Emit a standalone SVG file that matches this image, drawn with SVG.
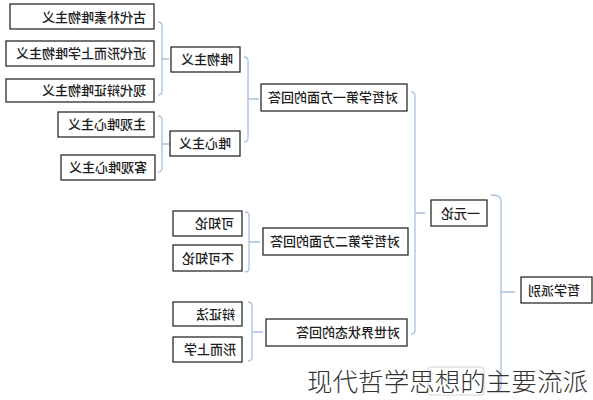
<svg xmlns="http://www.w3.org/2000/svg" width="593" height="400" viewBox="0 0 593 400">
<style>
.box{fill:#fff;stroke:#2b2b2b;stroke-width:1.3}
.t{font-family:"Noto Sans CJK SC","Liberation Sans",sans-serif;font-size:13px;fill:#1e1e1e;font-weight:500}
.c{fill:none;stroke:#a7c2de;stroke-width:1.3}
.wm{font-family:"Noto Sans CJK SC","Liberation Sans",sans-serif;font-size:25px;font-weight:300;fill:#333}
</style>
<rect width="593" height="400" fill="#fff"/>
<g id="connectors">
<path class="c" d="M158,22 Q162,22 162,26 V91 Q162,95 158,95 M162,59 H169"/>
<path class="c" d="M158,116 Q162,116 162,120 V168 Q162,172 158,172 M162,144 H169"/>
<path class="c" d="M244,57 Q248,57 248,61 V138 Q248,142 244,142 M248,99 H259"/>
<path class="c" d="M245,212 Q249,212 249,216 V268 Q249,272 245,272 M249,242 H260"/>
<path class="c" d="M248,302 Q252,302 252,306 V357 Q252,361 248,361 M252,332 H263"/>
<path class="c" d="M411,92 Q415,92 415,96 V330 Q415,334 411,334 M415,213 H425"/>
<path class="c" d="M491,195 Q501,195 501,200 V386 Q501,391 496,391 M501,292 H515"/>
</g>
<g id="n1"><rect class="box" x="10" y="4" width="144" height="25"/><text class="t" transform="scale(-1,1)" x="-146" y="22">古代朴素唯物主义</text></g>
<g id="n2"><rect class="box" x="6" y="41" width="148" height="25"/><text class="t" transform="scale(-1,1)" x="-146" y="58">近代形而上学唯物主义</text></g>
<g id="n3"><rect class="box" x="6" y="79" width="148" height="23"/><text class="t" transform="scale(-1,1)" x="-146" y="95">现代辩证唯物主义</text></g>
<g id="n4"><rect class="box" x="171" y="47" width="69" height="25"/><text class="t" transform="scale(-1,1)" x="-233" y="64">唯物主义</text></g>
<g id="n5"><rect class="box" x="58" y="112" width="96" height="25"/><text class="t" transform="scale(-1,1)" x="-146" y="129">主观唯心主义</text></g>
<g id="n6"><rect class="box" x="61" y="155" width="94" height="25"/><text class="t" transform="scale(-1,1)" x="-147" y="172">客观唯心主义</text></g>
<g id="n7"><rect class="box" x="170" y="131" width="70" height="25"/><text class="t" transform="scale(-1,1)" x="-231" y="148">唯心主义</text></g>
<g id="n8"><rect class="box" x="261" y="84" width="146" height="27"/><text class="t" transform="scale(-1,1)" x="-398" y="102">对哲学第一方面的回答</text></g>
<g id="n9"><rect class="box" x="173" y="211" width="69" height="25"/><text class="t" transform="scale(-1,1)" x="-234" y="228">可知论</text></g>
<g id="n10"><rect class="box" x="173" y="245" width="69" height="26"/><text class="t" transform="scale(-1,1)" x="-234" y="263">不可知论</text></g>
<g id="n11"><rect class="box" x="263" y="228" width="145" height="27"/><text class="t" transform="scale(-1,1)" x="-400" y="246">对哲学第二方面的回答</text></g>
<g id="n12"><rect class="box" x="173" y="302" width="69" height="24"/><text class="t" transform="scale(-1,1)" x="-235" y="319">辩证法</text></g>
<g id="n13"><rect class="box" x="173" y="337" width="69" height="25"/><text class="t" transform="scale(-1,1)" x="-236" y="354">形而上学</text></g>
<g id="n14"><rect class="box" x="266" y="319" width="141" height="27"/><text class="t" transform="scale(-1,1)" x="-400" y="337">对世界状态的回答</text></g>
<g id="n15"><rect class="box" x="431" y="200" width="56" height="26"/><text class="t" transform="scale(-1,1)" x="-480" y="218">一元论</text></g>
<g id="n16"><rect class="box" x="521" y="277" width="71" height="26"/><text class="t" transform="scale(-1,1)" x="-580" y="295">哲学派别</text></g>
<rect x="428" y="367" width="56" height="28" rx="3" fill="none" stroke="#d4d4d4" stroke-width="1"/>
<text class="wm" x="307" y="391" textLength="281" lengthAdjust="spacingAndGlyphs">现代哲学思想的主要流派</text>
</svg>
